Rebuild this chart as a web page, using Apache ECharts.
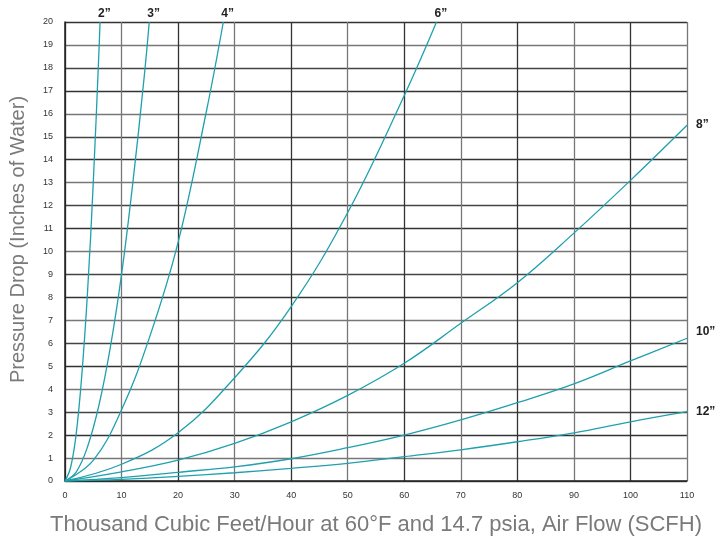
<!DOCTYPE html>
<html>
<head>
<meta charset="utf-8">
<script src="https://cdn.jsdelivr.net/npm/echarts@6/dist/echarts.min.js"></script>
<style>html,body{margin:0;padding:0;background:#fff}#c{width:718px;height:540px}</style>
</head>
<body>
<div id="c"></div>
<script>
var xTicks = [0,10,20,30,40,50,60,70,80,90,100,110];
var yTicks = [0,1,2,3,4,5,6,7,8,9,10,11,12,13,14,15,16,17,18,19,20];
var seriesNames = ['2”','3”','4”','6”','8”','10”','12”'];
var pipe2 = [[0,0],[1,0.6],[2,2.1],[3,4.7],[4,8.3],[5,13],[6,18.7],[6.2,20]];
var pipe3 = [[0,0],[2,0.4],[4,1.5],[6,3.3],[8,5.8],[10,9.0],[12,13.0],[14,17.6],[14.9,20]];
var pipe4 = [[0,0],[5,0.9],[10,3.1],[15,6.3],[20,10.4],[25,16.1],[28,20]];
var pipe6 = [[0,0],[10,0.73],[20,2.1],[30,4.5],[40,7.6],[50,11.7],[60,16.8],[65.7,20]];
var pipe8 = [[0,0],[10,0.4],[20,0.91],[30,1.64],[40,2.58],[50,3.73],[60,5.13],[70,6.87],[80,8.64],[90,10.8],[100,13.1],[110,15.5]];
var pipe10 = [[0,0],[10,0.15],[20,0.38],[30,0.62],[40,0.97],[50,1.45],[60,2.0],[70,2.66],[80,3.41],[90,4.23],[100,5.23],[110,6.22]];
var pipe12 = [[0,0],[10,0.07],[20,0.2],[30,0.36],[40,0.55],[50,0.77],[60,1.06],[70,1.36],[80,1.71],[90,2.1],[100,2.58],[110,3.02]];
var allData = [pipe2,pipe3,pipe4,pipe6,pipe8,pipe10,pipe12];
var labelOffsets = [[-10,-8],[-10,-8],[-10,-8],[-10,-8],[1,-1],[1,-7],[1,0]];

var chart = echarts.init(document.getElementById('c'));
var series = allData.map(function(d,i){
  return {
    name: seriesNames[i], type:'line', data:d, smooth:0.4, symbol:'none',
    lineStyle:{color:'#1fa0ad', width:1.3},
    endLabel:{show:true, formatter: seriesNames[i], fontFamily:'Liberation Sans, Arial, sans-serif',
      fontWeight:'bold', fontSize:12, color:'#222', offset: labelOffsets[i]},
    animation:false, z: 3
  };
});
chart.setOption({
  animation:false,
  grid:{left:65, right:31, top:22, bottom:59, containLabel:false, outerBoundsMode:'none'},
  xAxis:{type:'value', min:0, max:110, interval:10,
    name:'Thousand Cubic Feet/Hour at 60°F and 14.7 psia, Air Flow (SCFH)',
    nameLocation:'middle', nameGap:33,
    nameTextStyle:{fontFamily:'Liberation Sans, Arial, sans-serif', fontSize:22, color:'#7a7a7a'},
    axisLine:{show:true, lineStyle:{color:'#222', width:1.5}},
    axisTick:{show:false},
    axisLabel:{fontFamily:'Liberation Sans, Arial, sans-serif', fontSize:9, color:'#333', margin:10},
    splitLine:{show:true, lineStyle:{color:['#333','#777'], width:1.3}}
  },
  yAxis:{type:'value', min:0, max:20, interval:1,
    name:'Pressure Drop (Inches of Water)',
    nameLocation:'middle', nameGap:37,
    nameTextStyle:{fontFamily:'Liberation Sans, Arial, sans-serif', fontSize:20, color:'#7a7a7a', padding:[0,0,0,24]},
    axisLine:{show:true, lineStyle:{color:'#222', width:1.5}},
    axisTick:{show:false},
    axisLabel:{fontFamily:'Liberation Sans, Arial, sans-serif', fontSize:9, color:'#333', margin:12},
    splitLine:{show:true, lineStyle:{color:['#444','#777','#333'], width:1.3}}
  },
  series: series
});
</script>
</body>
</html>
